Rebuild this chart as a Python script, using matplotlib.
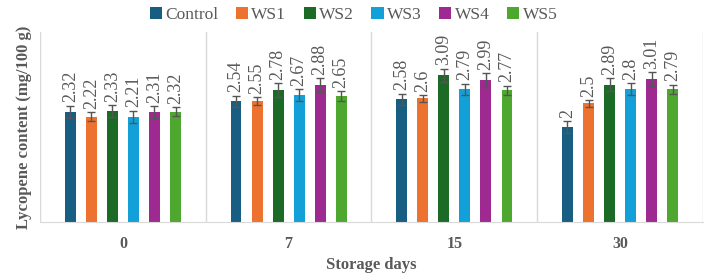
import numpy as np
import matplotlib.pyplot as plt

# Datos
days = ['0', '7', '15', '30']
series = ['Control', 'WS1', 'WS2', 'WS3', 'WS4', 'WS5']
values = {
    'Control': [2.32, 2.54, 2.58, 2.00],
    'WS1': [2.22, 2.55, 2.60, 2.50],
    'WS2': [2.33, 2.78, 3.09, 2.89],
    'WS3': [2.21, 2.67, 2.79, 2.80],
    'WS4': [2.31, 2.88, 2.99, 3.01],
    'WS5': [2.32, 2.65, 2.77, 2.79],
}
errors = {
    'Control': [0.13, 0.12, 0.12, 0.12],
    'WS1': [0.09, 0.08, 0.07, 0.07],
    'WS2': [0.13, 0.14, 0.14, 0.14],
    'WS3': [0.13, 0.12, 0.12, 0.12],
    'WS4': [0.13, 0.14, 0.14, 0.14],
    'WS5': [0.09, 0.10, 0.10, 0.10],
}
colors = ['#175E82', '#ED7230', '#1B6B27', '#13A0D8', '#9E2A91', '#4EA72E']

plt.rcParams['font.family'] = ['Liberation Serif', 'DejaVu Serif']
txt = '#595959'

fig = plt.figure(figsize=(7.07, 2.8), dpi=100)
ax = fig.add_axes([0.0566, 0.207, 0.9377, 0.679])

x = np.arange(len(days))
step = 0.127
width = 0.066
for i, s in enumerate(series):
    pos = x + (i - 2.5) * step
    ax.bar(pos, values[s], width, color=colors[i], label=s, zorder=2)
    ax.errorbar(pos, values[s], yerr=errors[s], fmt='none', ecolor='#555555',
                elinewidth=1.0, capsize=3, capthick=1.0, zorder=3)
    for p, v, e in zip(pos, values[s], errors[s]):
        ax.text(p, v + e + 0.07, f'{v:g}', rotation=90, ha='center', va='bottom',
                fontsize=13, color=txt)

ax.set_xlim(-0.5, len(days) - 0.5)
ax.set_ylim(0, 4.0)
ax.set_yticks([])
ax.set_xticks(x)
ax.set_xticklabels(days, fontweight='bold', fontsize=11.5, color=txt)
ax.tick_params(axis='x', length=0, pad=10)
for b in np.arange(-0.5, len(days), 1.0):
    ax.axvline(b, color='#d9d9d9', lw=1, zorder=1)
for side in ['top', 'right', 'left']:
    ax.spines[side].set_visible(False)
ax.spines['bottom'].set_color('#d9d9d9')

ax.set_xlabel('Storage days', fontweight='bold', fontsize=12, color=txt, labelpad=4)
ax.set_ylabel('Lycopene content (mg/100 g)', fontweight='bold', fontsize=12,
              color=txt, labelpad=6)

fig.legend(loc='upper center', bbox_to_anchor=(0.5, 1.03), ncol=6, frameon=False,
           fontsize=12.5, handlelength=0.7, handleheight=0.7, handletextpad=0.2,
           columnspacing=1.0, labelcolor=txt)

fig.savefig('out.png', dpi=100)
